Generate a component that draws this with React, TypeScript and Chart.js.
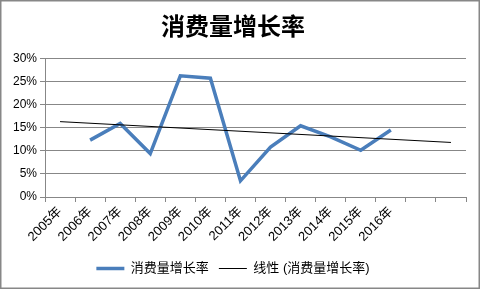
import React, { useEffect, useRef } from "react";
import { Chart, registerables } from "chart.js";

Chart.register(...registerables);

const categories = ["2005年", "2006年", "2007年", "2008年", "2009年", "2010年", "2011年", "2012年", "2013年", "2014年", "2015年", "2016年", "", ""];
const growthRate: (number | null)[] = [null, 12.3, 15.9, 9.4, 26.2, 25.7, 3.5, 10.8, 15.4, 13.0, 10.1, 14.5, null, null];
const trendLine: (number | null)[] = [16.3, null, null, null, null, null, null, null, null, null, null, null, null, 11.8];
const yTicks = [0, 5, 10, 15, 20, 25, 30];

const seriesName = "消费量增长率";
const trendName = "线性 (消费量增长率)";
const titleText = "消费量增长率";

const FONT = "'Liberation Sans', 'Noto Sans CJK SC', sans-serif";
const GRID = "#878787";

const borderPlugin = {
  id: "outerBorder",
  afterDraw(chart: any) {
    const ctx = chart.ctx;
    ctx.save();
    ctx.strokeStyle = "#878787";
    ctx.lineWidth = 1.5;
    ctx.strokeRect(0.75, 0.75, 478.5, 287.5);
    ctx.restore();
  },
};

export default function App() {
  const ref = useRef<HTMLCanvasElement>(null);
  useEffect(() => {
    if (!ref.current) return;
    const chart = new Chart(ref.current, {
      type: "line",
      data: {
        labels: categories,
        datasets: [
          {
            label: seriesName,
            data: growthRate,
            borderColor: "#4A7EBB",
            backgroundColor: "#4A7EBB",
            borderWidth: 3.5,
            pointRadius: 0,
            tension: 0,
            order: 1,
          },
          {
            label: trendName,
            data: trendLine,
            borderColor: "#000000",
            backgroundColor: "#000000",
            borderWidth: 1,
            pointRadius: 0,
            spanGaps: true,
            order: 0,
          },
        ],
      },
      options: {
        responsive: false,
        animation: false,
        layout: { padding: { left: 0, right: 15, top: 0, bottom: 5 } },
        plugins: {
          title: {
            display: true,
            text: titleText,
            color: "#000",
            font: { family: "'Noto Sans CJK SC', sans-serif", size: 24, weight: "bold" },
            padding: { top: 11, bottom: 18.5 },
          },
          legend: {
            position: "bottom",
            labels: {
              usePointStyle: true,
              pointStyle: "line",
              pointStyleWidth: 28,
              color: "#000",
              font: { family: FONT, size: 13 },
              padding: 10,
              sort: (a: any, b: any) => a.datasetIndex - b.datasetIndex,
            },
          },
          tooltip: { enabled: false },
        },
        scales: {
          x: {
            offset: true,
            grid: { display: true, drawOnChartArea: false, drawTicks: true, tickLength: 5, color: GRID, offset: true },
            border: { display: true, color: GRID },
            ticks: {
              color: "#000",
              font: { family: FONT, size: 13 },
              maxRotation: 45,
              minRotation: 45,
              autoSkip: false,
              padding: 2,
            },
            afterFit: (s: any) => { s.height = 55; },
          },
          y: {
            min: 0,
            max: 30,
            afterBuildTicks: (s: any) => { s.ticks = yTicks.map((v) => ({ value: v })); },
            grid: { color: GRID, drawTicks: true, tickLength: 5 },
            border: { display: true, color: GRID },
            ticks: {
              color: "#000",
              font: { family: FONT, size: 12 },
              padding: 3,
              callback: (v: any) => v + "%",
            },
            afterFit: (s: any) => { s.width = 45; },
          },
        },
      },
      plugins: [borderPlugin],
    });
    return () => chart.destroy();
  }, []);
  return (
    <div style={{ position: "absolute", left: 0, top: 0, width: 481, height: 290, background: "#fff" }}>
      <canvas ref={ref} width={481} height={290} />
    </div>
  );
}
